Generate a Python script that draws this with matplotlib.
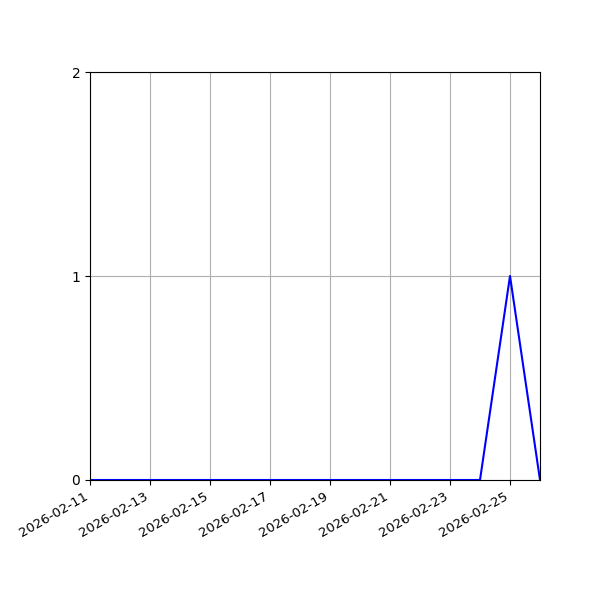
import numpy as np
import pandas as pd
import matplotlib
matplotlib.use("Agg")
import matplotlib.pyplot as plt
import matplotlib.dates as mdates

# daily counts
dates = pd.date_range("2026-02-11", "2026-02-26", freq="D")
counts = [0, 0, 0, 0, 0, 0, 0, 0, 0, 0, 0, 0, 0, 0, 1, 0]

fig = plt.figure(figsize=(6, 6), dpi=100)
ax = fig.add_subplot(1, 1, 1)

ax.plot(dates, counts, color="blue")

ax.set_xlim(dates[0], dates[-1])
ax.set_ylim(0, 2)
ax.set_yticks([0, 1, 2])
ax.set_xticks(dates[::2])
ax.xaxis.set_major_formatter(mdates.DateFormatter("%Y-%m-%d"))
ax.grid(True)

fig.autofmt_xdate()
plt.setp(ax.get_xticklabels(), fontsize=9.5)
fig.subplots_adjust(left=0.15, right=0.9, top=0.88, bottom=0.2)

fig.savefig("out.png", dpi=100)
